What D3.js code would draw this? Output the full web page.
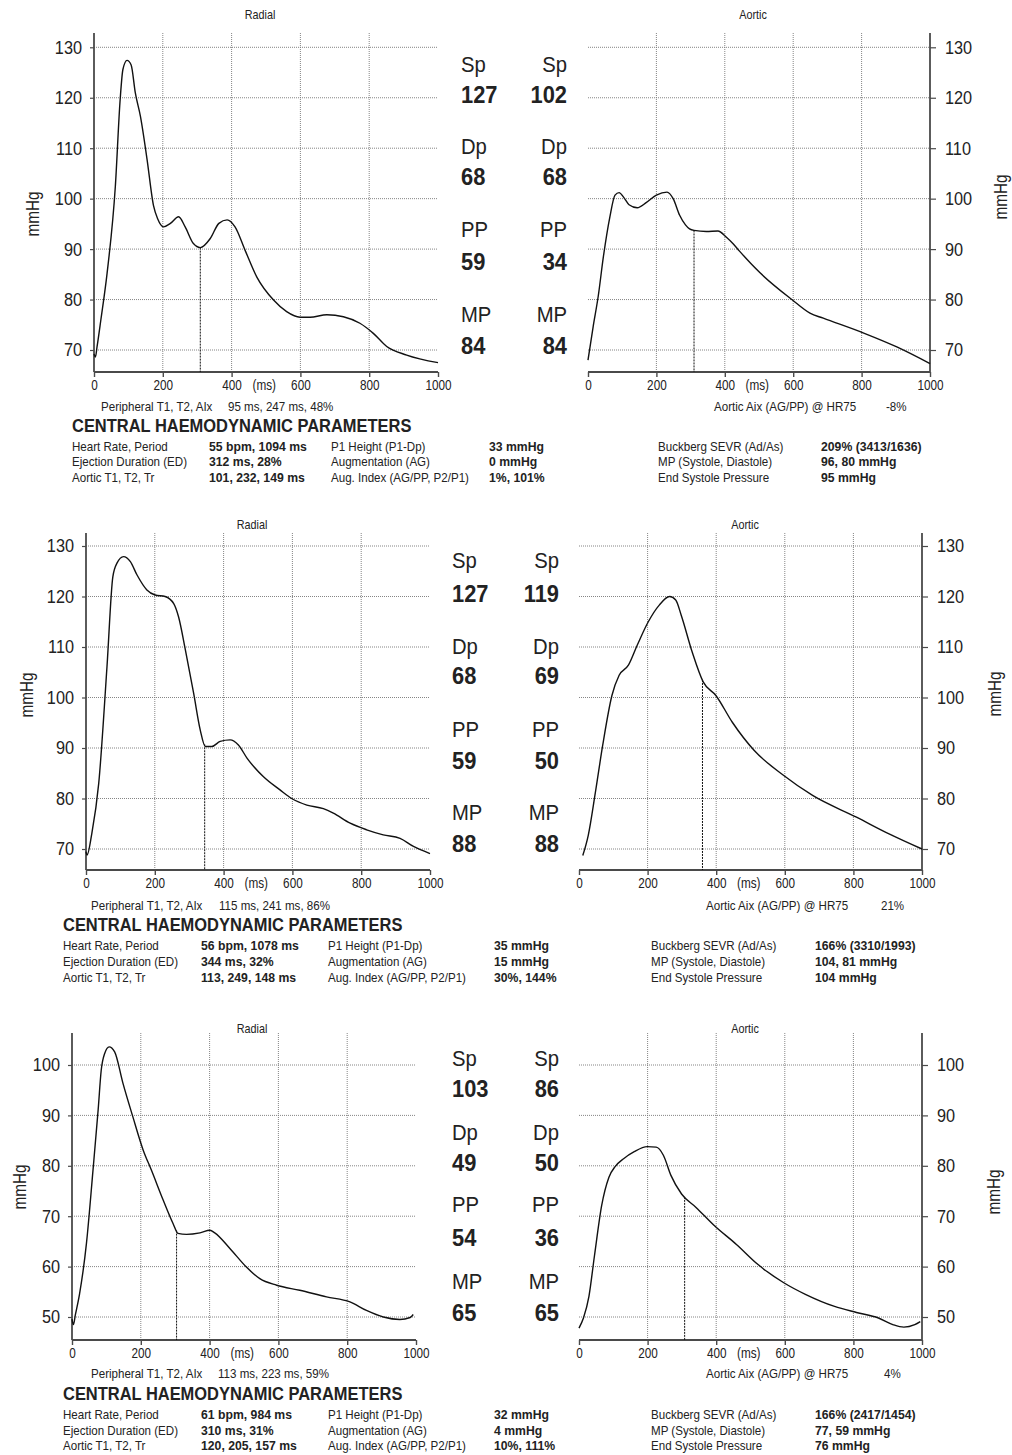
<!DOCTYPE html>
<html>
<head>
<meta charset="utf-8">
<script src="https://cdn.jsdelivr.net/npm/d3@7"></script>
<style>
body { margin: 0; background: #fff; }
svg text { font-family: 'Liberation Sans', Arial, Helvetica, sans-serif; fill: #222; }
</style>
</head>
<body>
<svg id="page" width="1012" height="1455"></svg>
<script>
// ---- data ----
const xTicks = [0, 200, 400, 600, 800, 1000]
const xGrid = [200, 400, 600, 800]
const yTicks = [
    [70, 80, 90, 100, 110, 120, 130],
    [70, 80, 90, 100, 110, 120, 130],
    [50, 60, 70, 80, 90, 100]
]

// [ms, mmHg]
const radial1 = [[0,69.2],[4,68.6],[9,70.7],[20,76],[38,85.2],[62,102.4],[76,119.6],[84,125.6],[96,127.4],[108,126.5],[120,121],[135,116.3],[154,107.9],[173,98.6],[185,96],[202,94.4],[222,95.1],[246,96.4],[265,94.4],[289,91.1],[309,90.3],[338,92.1],[363,95.1],[387,95.8],[410,94.4],[439,89.8],[473,84.5],[522,79.9],[560,77.6],[599,76.5],[628,76.5],[677,77],[725,76.6],[773,75.3],[812,73.3],[851,70.7],[909,69],[1000,67.5]]
const aortic1 = [[0,68],[15,74.6],[30,80.7],[45,88.5],[64,96.4],[79,100.7],[91,101.2],[105,100.2],[120,98.8],[144,98.2],[170,99.2],[200,100.7],[231,101.3],[249,100],[268,96.7],[285,94.8],[297,94],[310,93.7],[346,93.5],[380,93.6],[404,92.4],[425,91],[443,89.6],[503,85.3],[596,80],[649,77.3],[688,76.3],[808,73.3],[903,70.6],[1000,67.3]]
const radial2 = [[0,69.5],[3,68.8],[17,73.1],[37,83],[61,106.1],[78,123.9],[90,126.6],[109,127.9],[129,126.9],[148,124.3],[177,121.3],[201,120.3],[230,120],[255,118.6],[269,116],[289,109.4],[313,100.8],[332,93.6],[347,90.3],[366,90.3],[390,91.3],[419,91.6],[443,90.6],[468,88],[516,84.3],[564,81.7],[598,80],[642,78.7],[690,78],[719,77.1],[768,75.1],[816,73.8],[864,72.8],[913,72.1],[952,70.5],[1000,69.1]]
const aortic2 = [[11,68.7],[27,72.7],[48,81.3],[69,90.5],[96,100.4],[117,104.4],[144,106.4],[170,110.4],[202,115],[234,118.3],[264,120],[282,119.3],[298,116.3],[330,109],[362,103.1],[399,100.4],[447,95.1],[511,89.5],[596,84.6],[681,80.6],[809,76.3],[904,73],[1000,70]]
const radial3 = [[0,49.6],[4,48.5],[10,50.5],[22,54.6],[42,64.6],[61,79.1],[76,91.1],[85,99],[95,102.3],[108,103.6],[124,102.6],[148,96.4],[177,89.7],[207,83.1],[231,79.1],[265,73.2],[294,68.5],[308,66.6],[333,66.4],[372,66.7],[401,67.2],[415,66.7],[459,63.6],[507,59.9],[546,57.6],[595,56.3],[662,55.3],[740,54],[808,53],[856,51.3],[905,50],[953,49.5],[983,49.9],[992,50.5]]
const aortic3 = [[0,47.8],[13,49.8],[29,54.1],[45,62.1],[66,72.1],[87,77.7],[106,79.9],[130,81.4],[161,82.8],[199,83.8],[225,83.7],[246,82.1],[268,78.1],[299,74.4],[342,71.7],[395,68.1],[459,64.4],[522,60.4],[597,56.8],[660,54.5],[745,52.1],[809,50.9],[873,49.8],[915,48.5],[947,48],[979,48.5],[995,49.1]]

const radialWaves = [radial1, radial2, radial3]
const aorticWaves = [aortic1, aortic2, aortic3]
const radialNotch = [309, 345, 304]
const aorticNotch = [310, 360, 308]

const pressureNames = ['Sp', 'Dp', 'PP', 'MP']
const radialPressures = [[127, 68, 59, 84], [127, 68, 59, 88], [103, 49, 54, 65]]
const aorticPressures = [[102, 68, 34, 84], [119, 69, 50, 88], [86, 50, 36, 65]]

const peripheral = ['95 ms, 247 ms, 48%', '115 ms, 241 ms, 86%', '113 ms, 223 ms, 59%']
const aorticAix = ['-8%', '21%', '4%']

const paramNames = [
    ['Heart Rate, Period', 'Ejection Duration (ED)', 'Aortic T1, T2, Tr'],
    ['P1 Height (P1-Dp)', 'Augmentation (AG)', 'Aug. Index (AG/PP, P2/P1)'],
    ['Buckberg SEVR (Ad/As)', 'MP (Systole, Diastole)', 'End Systole Pressure']
]
const paramValues = [
    [['55 bpm, 1094 ms', '312 ms, 28%', '101, 232, 149 ms'], ['33 mmHg', '0 mmHg', '1%, 101%'], ['209% (3413/1636)', '96, 80 mmHg', '95 mmHg']],
    [['56 bpm, 1078 ms', '344 ms, 32%', '113, 249, 148 ms'], ['35 mmHg', '15 mmHg', '30%, 144%'], ['166% (3310/1993)', '104, 81 mmHg', '104 mmHg']],
    [['61 bpm, 984 ms', '310 ms, 31%', '120, 205, 157 ms'], ['32 mmHg', '4 mmHg', '10%, 111%'], ['166% (2417/1454)', '77, 59 mmHg', '76 mmHg']]
]

// ---- page layout ----
const layout = [
    { radial: [94, 438], aortic: [588, 930], top: 33, bottom: 372, yPix: [350, 47.3],
      titleY: 19, radialTitleX: 260, aorticTitleX: 753,
      leftUnit: [33, 214], rightUnit: [1001, 197],
      spLeft: 461, spRight: 567, nameY: [72, 154, 237, 322], valueY: [103, 185, 270, 354],
      periY: 411, periX: [101, 228], aixX: [714, 886],
      headY: 432, rowY: [451, 466, 482], cols: [72, 209, 331, 489, 658, 821] },
    { radial: [86, 430], aortic: [579, 922], top: 533, bottom: 870, yPix: [849, 546],
      titleY: 529, radialTitleX: 252, aorticTitleX: 745,
      leftUnit: [27, 695], rightUnit: [995, 694],
      spLeft: 452, spRight: 559, nameY: [568, 654, 737, 820], valueY: [602, 684, 769, 852],
      periY: 910, periX: [91, 219], aixX: [706, 881],
      headY: 931, rowY: [950, 966, 982], cols: [63, 201, 328, 494, 651, 815] },
    { radial: [72, 416], aortic: [579, 922], top: 1033, bottom: 1340, yPix: [1317, 1065],
      titleY: 1033, radialTitleX: 252, aorticTitleX: 745,
      leftUnit: [20, 1187], rightUnit: [994, 1192],
      spLeft: 452, spRight: 559, nameY: [1066, 1140, 1212, 1289], valueY: [1097, 1171, 1246, 1321],
      periY: 1378, periX: [91, 218], aixX: [706, 884],
      headY: 1400, rowY: [1419, 1435, 1450], cols: [63, 201, 328, 494, 651, 815] }
]

const gridColor = '#777'
const axisColor = '#4a4a4a'
const svg = d3.select('#page')

// condensed text: a plain sans squeezed horizontally
function txt(x, y, str, size, o = {}) {
    return svg.append('text')
        .attr('transform', `translate(${x},${y}) ${o.rotate ? 'rotate(-90) ' : ''}scale(${o.sx || 0.87},1)`)
        .attr('font-size', size)
        .attr('font-weight', o.bold ? 'bold' : null)
        .attr('text-anchor', o.anchor || null)
        .attr('dominant-baseline', o.central ? 'central' : null)
        .text(str)
}

function valueAt(wave, ms) {
    const i = d3.bisector(d => d[0]).left(wave, ms)
    const a = wave[Math.max(i - 1, 0)], b = wave[Math.min(i, wave.length - 1)]
    if (a[0] === b[0]) return a[1]
    return a[1] + (b[1] - a[1]) * (ms - a[0]) / (b[0] - a[0])
}

function drawWave(L, ticks, y, range, wave, notch, side, title, titleX) {
    const x = d3.scaleLinear().domain([0, 1000]).range(range)
    const g = svg.append('g')
    const axisX = side === 'left' ? range[0] : range[1]

    g.selectAll('line.hgrid')
        .data(ticks)
        .join('line')
        .attr('class', 'hgrid')
        .attr('x1', range[0]).attr('x2', range[1])
        .attr('y1', d => y(d)).attr('y2', d => y(d))
        .attr('stroke', gridColor)
        .attr('stroke-width', 0.9)
        .attr('stroke-dasharray', '1,1')

    g.selectAll('line.vgrid')
        .data(xGrid)
        .join('line')
        .attr('class', 'vgrid')
        .attr('x1', d => x(d)).attr('x2', d => x(d))
        .attr('y1', L.top).attr('y2', L.bottom)
        .attr('stroke', gridColor)
        .attr('stroke-width', 0.9)
        .attr('stroke-dasharray', '1,1')

    const xAxis = g.append('g')
        .attr('transform', `translate(0,${L.bottom})`)
        .call(d3.axisBottom(x).tickValues(xTicks).tickSize(5).tickSizeOuter(0).tickFormat(d3.format('d')))
    xAxis.select('.domain').remove()
    xAxis.selectAll('line').attr('stroke', axisColor).attr('stroke-width', 1.4)
    xAxis.selectAll('text')
        .attr('font-size', 14).attr('fill', '#222')
        .attr('y', null).attr('dy', null)
        .attr('transform', `translate(0,18) scale(0.84,1)`)

    txt(x(495), L.bottom + 18, '(ms)', 14, { anchor: 'middle', sx: 0.84 })

    const pad = side === 'left' ? -12 : 15
    const yAxis = g.append('g')
        .attr('transform', `translate(${axisX},0)`)
        .call((side === 'left' ? d3.axisLeft(y) : d3.axisRight(y))
            .tickValues(ticks).tickSize(side === 'left' ? 4 : 6))
    yAxis.select('.domain').remove()
    yAxis.selectAll('line').attr('stroke', axisColor).attr('stroke-width', 1.2)
    yAxis.selectAll('text')
        .attr('font-size', 18.5).attr('fill', '#222')
        .attr('x', null)
        .attr('transform', `translate(${pad},0) scale(0.88,1)`)

    g.append('line')
        .attr('x1', axisX).attr('x2', axisX)
        .attr('y1', L.top).attr('y2', L.bottom)
        .attr('stroke', axisColor).attr('stroke-width', 1.8)
    g.append('line')
        .attr('x1', range[0]).attr('x2', range[1])
        .attr('y1', L.bottom).attr('y2', L.bottom)
        .attr('stroke', axisColor).attr('stroke-width', 1.8)

    // ejection duration marker
    g.append('line')
        .attr('x1', x(notch)).attr('x2', x(notch))
        .attr('y1', y(valueAt(wave, notch))).attr('y2', L.bottom)
        .attr('stroke', '#111')
        .attr('stroke-width', 1)
        .attr('stroke-dasharray', '2,1')

    const line = d3.line()
        .x(d => x(d[0]))
        .y(d => y(d[1]))
        .curve(d3.curveMonotoneX)
    g.append('path')
        .datum(wave)
        .attr('d', line)
        .attr('fill', 'none')
        .attr('stroke', '#111')
        .attr('stroke-width', 1.4)

    txt(titleX, L.titleY, title, 12, { anchor: 'middle', sx: 0.9 })
}

function drawPanel(i) {
    const L = layout[i]
    const ticks = yTicks[i]
    const y = d3.scaleLinear().domain([ticks[0], ticks[ticks.length - 1]]).range(L.yPix)

    drawWave(L, ticks, y, L.radial, radialWaves[i], radialNotch[i], 'left', 'Radial', L.radialTitleX)
    drawWave(L, ticks, y, L.aortic, aorticWaves[i], aorticNotch[i], 'right', 'Aortic', L.aorticTitleX)
    txt(L.leftUnit[0], L.leftUnit[1], 'mmHg', 18, { rotate: true, anchor: 'middle', central: true, sx: 0.85 })
    txt(L.rightUnit[0], L.rightUnit[1], 'mmHg', 18, { rotate: true, anchor: 'middle', central: true, sx: 0.85 })

    // pressure summary block
    pressureNames.forEach((name, k) => {
        txt(L.spLeft, L.nameY[k], name, 22.5, { sx: 0.9 })
        txt(L.spRight, L.nameY[k], name, 22.5, { sx: 0.9, anchor: 'end' })
        txt(L.spLeft, L.valueY[k], radialPressures[i][k], 23.5, { sx: 0.93, bold: true })
        txt(L.spRight, L.valueY[k], aorticPressures[i][k], 23.5, { sx: 0.93, bold: true, anchor: 'end' })
    })

    txt(L.periX[0], L.periY, 'Peripheral T1, T2, AIx', 13.3)
    txt(L.periX[1], L.periY, peripheral[i], 13.3)
    txt(L.aixX[0], L.periY, 'Aortic Aix (AG/PP) @ HR75', 13.3)
    txt(L.aixX[1], L.periY, aorticAix[i], 13.3)

    txt(L.cols[0], L.headY, 'CENTRAL HAEMODYNAMIC PARAMETERS', 18.5, { bold: true, sx: 0.89 })

    paramNames.forEach((names, c) => {
        names.forEach((name, r) => {
            txt(L.cols[c * 2], L.rowY[r], name, 13.3)
            txt(L.cols[c * 2 + 1], L.rowY[r], paramValues[i][c][r], 13.3, { bold: true, sx: 0.92 })
        })
    })
}

layout.forEach((_, i) => drawPanel(i))
</script>
</body>
</html>
